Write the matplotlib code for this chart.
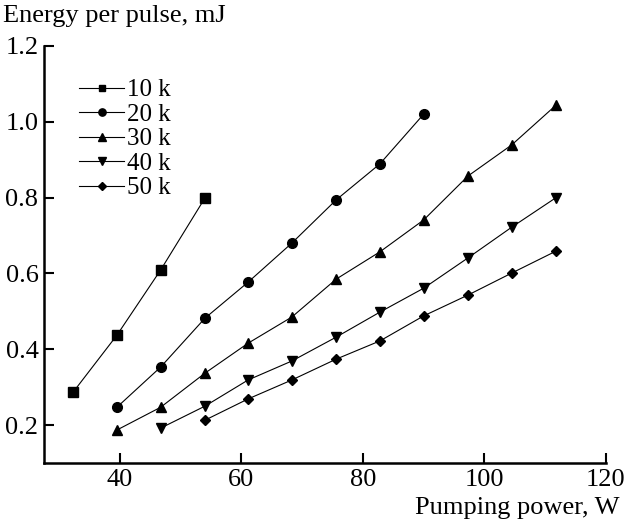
import matplotlib
matplotlib.use('Agg')
from matplotlib import pyplot as plt

plt.rcParams['font.family'] = ['Liberation Serif', 'DejaVu Serif']

# pumping power, W (same grid for every series)
power = [32.3, 39.5, 46.7, 54.0, 61.1, 68.3, 75.6, 82.8, 90.0, 97.3, 104.5, 111.8]

e10 = [0.287, 0.437, 0.609, 0.799]
e20 = [0.247, 0.353, 0.482, 0.577, 0.680, 0.794, 0.889, 1.020]
e30 = [0.187, 0.247, 0.337, 0.416, 0.485, 0.585, 0.657, 0.741, 0.857, 0.939, 1.044]
e40 = [0.192, 0.250, 0.319, 0.369, 0.432, 0.498, 0.561, 0.641, 0.722, 0.800]
e50 = [0.213, 0.269, 0.319, 0.374, 0.422, 0.488, 0.543, 0.601, 0.659]

labels = ['10 k', '20 k', '30 k', '40 k', '50 k']

fig = plt.figure(figsize=(6.24, 5.22), dpi=100)
ax = fig.add_axes([0.0705, 0.113, 0.9005, 0.799])

ax.plot(power[0:4], e10, 'k-', marker='s', ms=6.5, lw=0.8, label=labels[0])
ax.plot(power[1:9], e20, 'k-', marker='o', ms=7, lw=0.8, label=labels[1])
ax.plot(power[1:12], e30, 'k-', marker='^', ms=7.5, lw=0.8, label=labels[2])
ax.plot(power[2:12], e40, 'k-', marker='v', ms=7.5, lw=0.8, label=labels[3])
ax.plot(power[3:12], e50, 'k-', marker='D', ms=5.5, lw=0.8, label=labels[4])

ax.set_xlim(27.5, 120)
ax.set_ylim(0.1, 1.2)
ax.set_xticks([40, 60, 80, 100, 120])
ax.set_yticks([0.2, 0.4, 0.6, 0.8, 1.0, 1.2])
ax.set_yticklabels(['0.2', '0.4', '0.6', '0.8', '1.0', '1.2'])
ax.spines['top'].set_visible(False)
ax.spines['right'].set_visible(False)
ax.spines['left'].set_linewidth(1.8)
ax.spines['bottom'].set_linewidth(1.8)
ax.tick_params(direction='in', length=7, width=1.5, labelsize=19, pad=4)

leg = ax.legend(loc='upper left', bbox_to_anchor=(0.045, 0.945), frameon=False,
                fontsize=18, handlelength=1.8, handletextpad=0.1,
                labelspacing=0.08, borderaxespad=0, markerscale=0.75)

fig.text(0.005, 0.99, 'Energy per pulse, mJ', fontsize=19, ha='left', va='top')
fig.text(0.665, 0.005, 'Pumping power, W', fontsize=19, ha='left', va='bottom')

plt.savefig('out.png', dpi=100)
